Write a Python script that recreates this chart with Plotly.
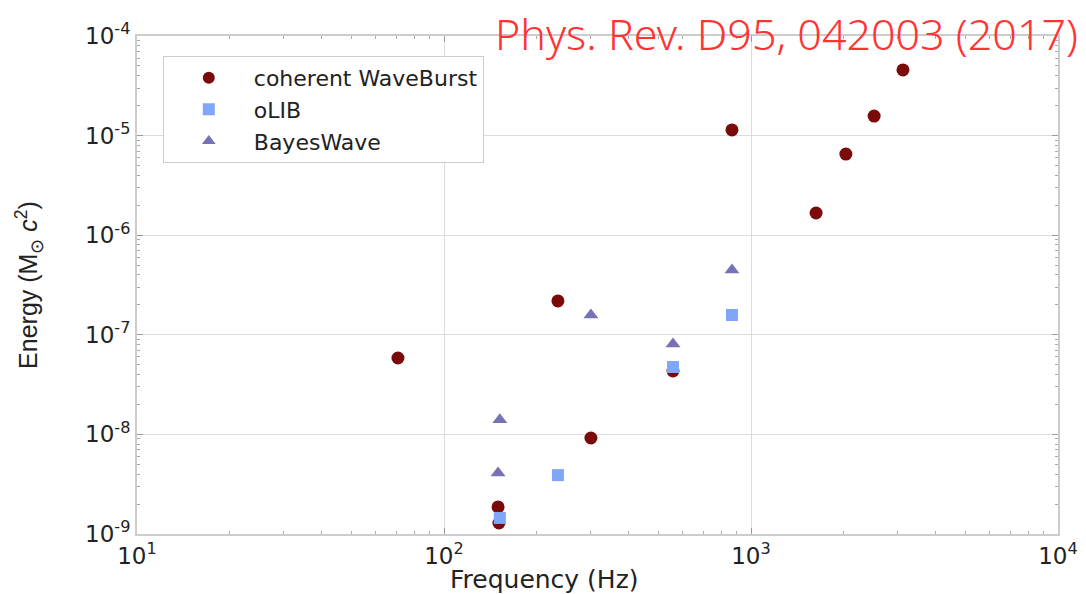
import plotly.graph_objects as go

# Burst energy estimates per pipeline
cwb_freq = [70.8, 235, 301, 150, 151, 557, 867, 1629, 2037, 2518, 3126]
cwb_energy = [5.85e-8, 2.19e-7, 9.2e-9, 1.87e-9, 1.29e-9, 4.33e-8, 1.14e-5, 1.67e-6, 6.53e-6, 1.57e-5, 4.56e-5]

olib_freq = [152, 235, 557, 867]
olib_energy = [1.45e-9, 3.9e-9, 4.75e-8, 1.58e-7]

bw_freq = [152, 150, 301, 557, 867]
bw_energy = [1.4e-8, 4.1e-9, 1.58e-7, 8.1e-8, 4.48e-7]

x_tick_vals = [10, 100, 1000, 10000]
x_tick_text = ["10<sup>1</sup>", "10<sup>2</sup>", "10<sup>3</sup>", "10<sup>4</sup>"]
y_tick_vals = [1e-9, 1e-8, 1e-7, 1e-6, 1e-5, 1e-4]
y_tick_text = ["10<sup>-9</sup>", "10<sup>-8</sup>", "10<sup>-7</sup>", "10<sup>-6</sup>",
               "10<sup>-5</sup>", "10<sup>-4</sup>"]

# minor ticks at 2..9 times each decade
x_minor = [k * 10.0 ** e for e in range(1, 4) for k in range(2, 10)]
y_minor = [k * 10.0 ** e for e in range(-9, -4) for k in range(2, 10)]

fig = go.Figure()
fig.add_trace(go.Scatter(x=cwb_freq, y=cwb_energy, mode="markers", name="coherent WaveBurst",
                         marker=dict(symbol="circle", size=13, color="#7b0a0a")))
fig.add_trace(go.Scatter(x=olib_freq, y=olib_energy, mode="markers", name="oLIB",
                         marker=dict(symbol="square", size=12, color="#80a6f8")))
fig.add_trace(go.Scatter(x=bw_freq, y=bw_energy, mode="markers", name="BayesWave",
                         marker=dict(symbol="triangle-up", size=13, color="#7772b5")))

axis_common = dict(
    type="log", showgrid=True, gridcolor="#dcdcdc", automargin=False,
    gridwidth=1, zeroline=False, showline=True, linecolor="#cccccc", linewidth=2,
    mirror="allticks", ticks="inside", ticklen=6, tickcolor="#999999",
    tickfont=dict(family="DejaVu Sans", size=23, color="#222222"),
)

fig.update_xaxes(range=[1, 4], tickmode="array", tickvals=x_tick_vals, ticktext=x_tick_text,
                 minor=dict(tickmode="array", tickvals=x_minor, ticks="inside", ticklen=3,
                            tickcolor="#aaaaaa", showgrid=False),
                 **axis_common)
fig.update_yaxes(range=[-9, -4], tickmode="array", tickvals=y_tick_vals, ticktext=y_tick_text,
                 minor=dict(tickmode="array", tickvals=y_minor, ticks="inside", ticklen=3,
                            tickcolor="#aaaaaa", showgrid=False),
                 title=dict(text="Energy (M<sub>⊙</sub> <i>c</i><sup>2</sup>)", standoff=40,
                            font=dict(family="Liberation Sans Narrow, Liberation Sans", size=25,
                                      color="#222222")),
                 **axis_common)

fig.add_annotation(text="Frequency (Hz)", xref="paper", yref="paper",
                   x=0.442, y=-0.092, xanchor="center", yanchor="middle", showarrow=False,
                   font=dict(family="DejaVu Sans", size=25, color="#222222"))

fig.add_annotation(text="Phys. Rev. D95, 042003 (2017)", xref="paper", yref="paper",
                   x=1.024, y=1.068, xanchor="right", yanchor="top", showarrow=False,
                   font=dict(family="Noto Sans", size=43, color="#ff3333", weight=300))

fig.update_layout(
    width=1086, height=594,
    margin=dict(l=137, r=28, t=36, b=60),
    paper_bgcolor="white", plot_bgcolor="white",
    showlegend=True,
    legend=dict(x=0.028, y=0.96, xanchor="left", yanchor="top",
                bordercolor="#cccccc", borderwidth=1, bgcolor="white",
                font=dict(family="DejaVu Sans", size=22, color="#222222"),
                itemsizing="constant", itemwidth=80),
)

fig.write_html("out.html")
